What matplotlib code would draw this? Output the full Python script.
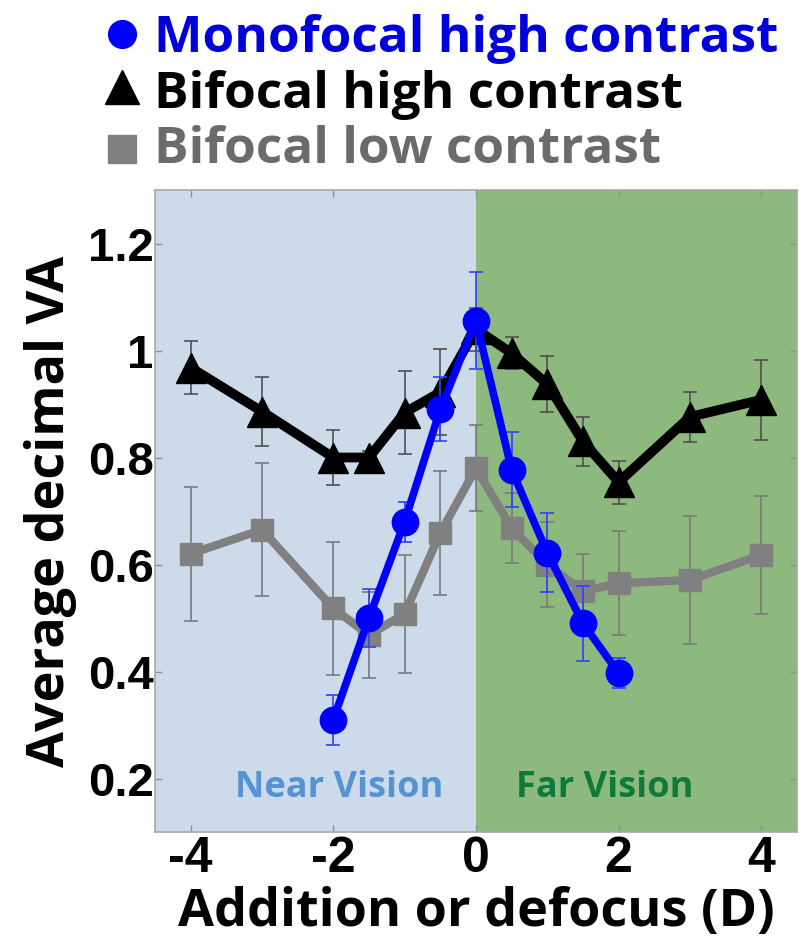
import matplotlib
matplotlib.use("Agg")
import matplotlib.pyplot as plt
from matplotlib.lines import Line2D

# Addition / defocus positions (D)
x_bifocal = [-4, -3, -2, -1.5, -1, -0.5, 0, 0.5, 1, 1.5, 2, 3, 4]
x_mono = [-2, -1.5, -1, -0.5, 0, 0.5, 1, 1.5, 2]

# Average decimal VA and error bars
mono_high = [0.31, 0.50, 0.68, 0.89, 1.056, 0.777, 0.622, 0.49, 0.397]
mono_high_err = [0.047, 0.055, 0.037, 0.06, 0.09, 0.07, 0.074, 0.07, 0.028]

bi_high = [0.968, 0.886, 0.80, 0.80, 0.884, 0.922, 1.04, 0.995, 0.937, 0.83, 0.754, 0.876, 0.908]
bi_high_err = [0.05, 0.065, 0.052, 0.012, 0.077, 0.08, 0.04, 0.03, 0.052, 0.045, 0.04, 0.047, 0.075]

bi_low = [0.62, 0.665, 0.518, 0.468, 0.508, 0.659, 0.78, 0.668, 0.60, 0.55, 0.565, 0.571, 0.618]
bi_low_err = [0.125, 0.124, 0.125, 0.08, 0.11, 0.116, 0.08, 0.065, 0.08, 0.07, 0.097, 0.12, 0.11]

x_ticks = [-4, -2, 0, 2, 4]
y_ticks = [0.2, 0.4, 0.6, 0.8, 1.0, 1.2]
y_ticklabels = ["0.2", "0.4", "0.6", "0.8", "1", "1.2"]

labels = ["Monofocal high contrast", "Bifocal high contrast", "Bifocal low contrast"]

BLUE = "#0000ff"
GREY = "#808080"
NEAR_BG = "#ccdaea"
FAR_BG = "#8db97f"

TEXT_FONT = ["Open Sans", "DejaVu Sans"]
NUM_FONT = ["Liberation Sans", "DejaVu Sans"]

fig = plt.figure(figsize=(8.03, 9.43), dpi=100)
ax = fig.add_axes([0.193, 0.1177, 0.7995, 0.6808])

xmin, xmax = -4.5, 4.5
ax.axvspan(xmin, 0, color=NEAR_BG, zorder=0, lw=0)
ax.axvspan(0, xmax, color=FAR_BG, zorder=0, lw=0)

ax.errorbar(x_bifocal, bi_low, yerr=bi_low_err, color=GREY, lw=6, marker="s",
            ms=16, ecolor="#7a7a7a", elinewidth=1.2, capsize=5, capthick=1.2,
            zorder=3)
ax.errorbar(x_bifocal, bi_high, yerr=bi_high_err, color="black", lw=7, marker="^",
            ms=21, ecolor="#505050", elinewidth=1.2, capsize=5, capthick=1.2,
            zorder=4)
ax.errorbar(x_mono, mono_high, yerr=mono_high_err, color=BLUE, lw=5.5, marker="o",
            ms=19, ecolor="#3040ff", elinewidth=1.2, capsize=5, capthick=1.2,
            zorder=5)

ax.text(-1.92, 0.182, "Near Vision", color="#5592d6", fontsize=26,
        fontweight="bold", family=TEXT_FONT, ha="center", va="center", zorder=6)
ax.text(1.8, 0.182, "Far Vision", color="#0e7a3a", fontsize=26,
        fontweight="bold", family=TEXT_FONT, ha="center", va="center", zorder=6)

ax.set_xlim(xmin, xmax)
ax.set_ylim(0.1, 1.3)
ax.set_xticks(x_ticks)
ax.set_xticklabels([str(t) for t in x_ticks])
ax.set_yticks(y_ticks)
ax.set_yticklabels(y_ticklabels)
ax.tick_params(direction="in", top=True, right=True, length=5, width=1,
               color="#909090")
ax.tick_params(axis="x", pad=3)
ax.tick_params(axis="y", pad=1)
for lab in ax.get_xticklabels():
    lab.set_family(NUM_FONT)
    lab.set_fontweight("bold")
    lab.set_fontsize(36)
for lab in ax.get_yticklabels():
    lab.set_family(NUM_FONT)
    lab.set_fontweight("bold")
    lab.set_fontsize(34)
for sp in ax.spines.values():
    sp.set_color("#a8a8a8")
    sp.set_linewidth(1.2)

ax.set_xlabel("Addition or defocus (D)", fontsize=37.5, fontweight="bold",
              family=TEXT_FONT, labelpad=3)
ax.set_ylabel("Average decimal VA", fontsize=37.5, fontweight="bold",
              family=TEXT_FONT, labelpad=8)

# Key above the axes: marker plus coloured label per series
key_markers = [("o", 20, BLUE), ("^", 24, "black"), ("s", 20, GREY)]
key_colors = ["#0000dd", "black", "#6b6b6b"]
key_marker_y = [0.964, 0.9077, 0.842]
key_text_y = [0.9449, 0.8855, 0.8271]
for (mk, ms, mc), lab, tc, my, ty in zip(key_markers, labels, key_colors,
                                         key_marker_y, key_text_y):
    fig.add_artist(Line2D([0.152], [my], transform=fig.transFigure, ls="none",
                          marker=mk, ms=ms, color=mc))
    fig.text(0.192, ty, lab, color=tc, fontsize=37, fontweight="bold",
             family=TEXT_FONT, ha="left", va="baseline")

fig.savefig("out.png", dpi=100)
